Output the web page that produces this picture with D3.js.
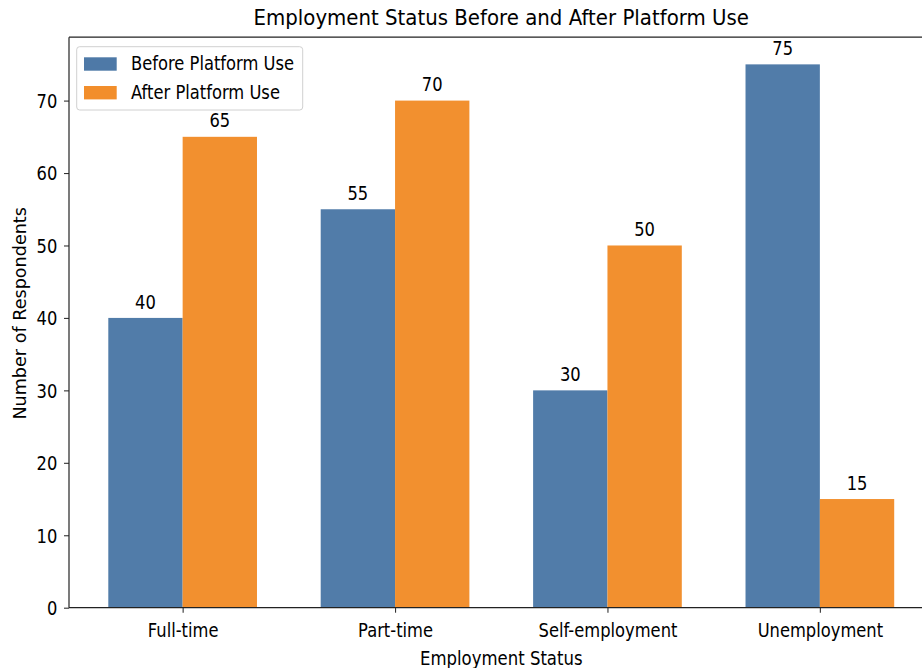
<!DOCTYPE html>
<html>
<head>
<meta charset="utf-8">
<script src="https://cdn.jsdelivr.net/npm/d3@7"></script>
<style>
html,body{margin:0;padding:0;background:#fff;}
svg{display:block;font-family:"DejaVu Sans",sans-serif;}
</style>
</head>
<body>
<svg id="chart" width="922" height="668"></svg>
<script>
const categories = ["Full-time", "Part-time", "Self-employment", "Unemployment"];
const beforeValues = [40, 55, 30, 75];
const afterValues = [65, 70, 50, 15];
const seriesNames = ["Before Platform Use", "After Platform Use"];
const seriesColors = ["#4e79a7", "#f28e2b"];
const yTicks = [0, 10, 20, 30, 40, 50, 60, 70];

const svg = d3.select("#chart");
const barW = 0.35;
const x = d3.scaleLinear().domain([-0.535, 3.535]).range([69, 933.5]);
const y = d3.scaleLinear().domain([0, 78.75]).range([607.7, 37.2]);

const TS = 19, SX = 0.86; // tick text size and horizontal condensation

function htext(g, px, py, str, size, sx, anchor) {
  return g.append("text")
    .attr("transform", `translate(${px},${py}) scale(${sx},1)`)
    .attr("text-anchor", anchor)
    .attr("font-size", size)
    .attr("fill", "#000")
    .text(str);
}

// bars
const series = [beforeValues, afterValues];
series.forEach((vals, si) => {
  const off = si === 0 ? -barW : 0;
  svg.append("g").selectAll("rect").data(vals).join("rect")
    .attr("x", (d, i) => x(i + off))
    .attr("width", (d, i) => x(i + off + barW) - x(i + off))
    .attr("y", d => y(d))
    .attr("height", d => y(0) - y(d))
    .attr("fill", seriesColors[si])
    .attr("fill-opacity", 0.98);
  vals.forEach((v, i) => {
    htext(svg, x(i + off + barW / 2), y(v) - 9.4, String(v), TS, SX, "middle");
  });
});

// y axis
const yAxis = svg.append("g").attr("transform", `translate(${x.range()[0]},0)`)
  .call(d3.axisLeft(y).tickValues(yTicks).tickSize(5).tickFormat(d3.format("d")));
yAxis.select(".domain").remove();
yAxis.selectAll(".tick line").attr("stroke", "#333").attr("stroke-width", 1.1);
yAxis.selectAll(".tick text").attr("font-size", TS).attr("font-family", "DejaVu Sans").attr("fill", "#000")
  .attr("x", null).attr("dy", "0.36em")
  .attr("transform", `translate(-11.7,0) scale(${SX},1)`);

// x axis
const xAxis = svg.append("g").attr("transform", `translate(0,${y(0)})`)
  .call(d3.axisBottom(x).tickValues(d3.range(categories.length)).tickSize(5).tickFormat(i => categories[i]));
xAxis.select(".domain").remove();
xAxis.selectAll(".tick line").attr("stroke", "#333").attr("stroke-width", 1.1);
xAxis.selectAll(".tick text").attr("font-size", TS).attr("font-family", "DejaVu Sans").attr("fill", "#000")
  .attr("y", null).attr("dy", null)
  .attr("transform", `translate(0,29) scale(${SX},1)`);

// spines
const [x0, x1] = x.range(), [yb, yt] = y.range();
const sp = svg.append("g").attr("stroke", "#222").attr("stroke-width", 1.2).attr("fill", "none");
sp.append("line").attr("x1", x0).attr("x2", x0).attr("y1", yb).attr("y2", yt);
sp.append("line").attr("x1", x0).attr("x2", x1).attr("y1", yb).attr("y2", yb);
sp.append("line").attr("x1", x0).attr("x2", x1).attr("y1", yt).attr("y2", yt);
sp.append("line").attr("x1", x1).attr("x2", x1).attr("y1", yb).attr("y2", yt);

// title
htext(svg, (x0 + x1) / 2, 25, "Employment Status Before and After Platform Use", 21.5, 0.92, "middle");
// x label
htext(svg, (x0 + x1) / 2, 665, "Employment Status", TS, 0.87, "middle");
// y label
svg.append("text")
  .attr("transform", `translate(26,${(205 + 421.7) / 2}) rotate(-90)`)
  .attr("text-anchor", "middle")
  .attr("font-size", 17.6)
  .attr("fill", "#000")
  .text("Number of Respondents");

// legend
const lg = svg.append("g");
lg.append("rect").attr("x", 76.7).attr("y", 46.7).attr("width", 226).attr("height", 63.3)
  .attr("rx", 3).attr("fill", "#fff").attr("fill-opacity", 0.8).attr("stroke", "#d0d0d0").attr("stroke-width", 1);
seriesNames.forEach((name, i) => {
  const yy = 57.3 + i * 28.7;
  lg.append("rect").attr("x", 84).attr("y", yy).attr("width", 32.7).attr("height", 13.4).attr("fill", seriesColors[i]);
  htext(lg, 131, yy + 12.8, name, TS, SX, "start");
});
</script>
</body>
</html>
